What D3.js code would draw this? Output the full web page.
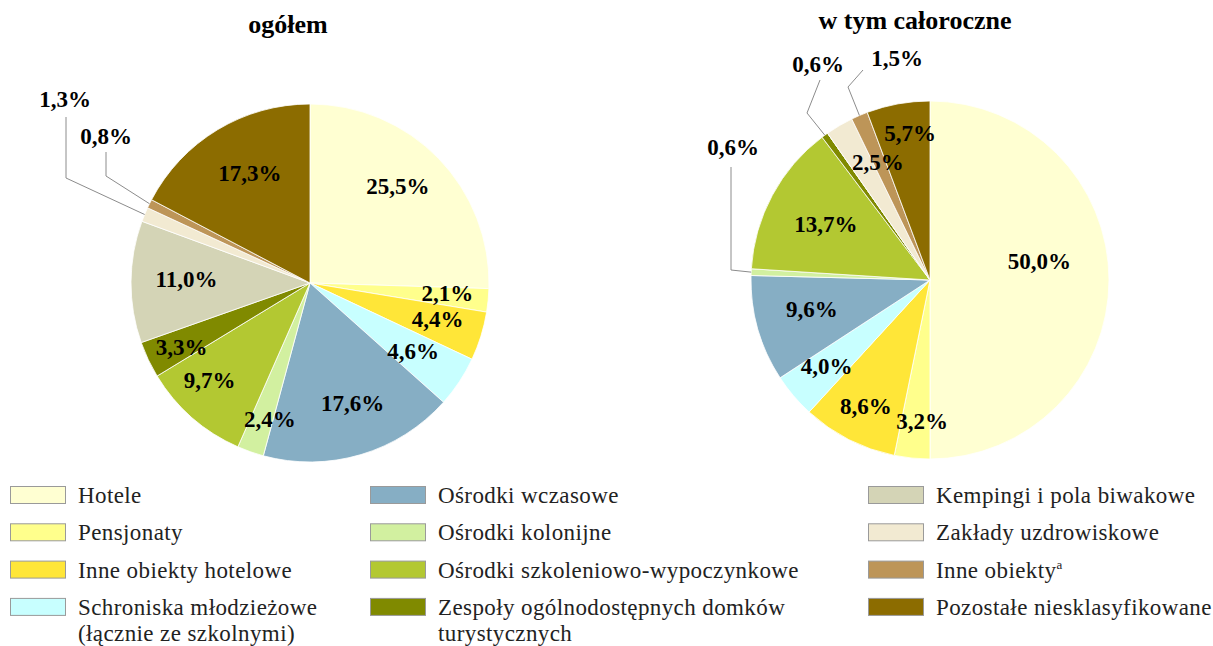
<!DOCTYPE html>
<html>
<head>
<meta charset="utf-8">
<script src="https://cdn.jsdelivr.net/npm/d3@7"></script>
<style>
  body { margin: 0; background: #fff; }
</style>
</head>
<body>
<script>
// categories (legend order == slice order, clockwise from 12 o'clock)
var categories = [
  "Hotele", "Pensjonaty", "Inne obiekty hotelowe", "Schroniska młodzieżowe|(łącznie ze szkolnymi)",
  "Ośrodki wczasowe", "Ośrodki kolonijne", "Ośrodki szkoleniowo-wypoczynkowe", "Zespoły ogólnodostępnych domków|turystycznych",
  "Kempingi i pola biwakowe", "Zakłady uzdrowiskowe", "Inne obiekty^a", "Pozostałe niesklasyfikowane"
];
var colors = ["#ffffd2", "#ffff8c", "#ffe638", "#c8ffff", "#86aec4", "#d2f0a0",
              "#b3c832", "#808a00", "#d4d4b6", "#f2ead2", "#bd9558", "#8c6c00"];

var totalValues  = [25.5, 2.1, 4.4, 4.6, 17.6, 2.4, 9.7, 3.3, 11.0, 1.3, 0.8, 17.3];
var yearlyValues = [50.0, 3.2, 8.6, 4.0, 9.6, 0.6, 13.7, 0.6, 0.0, 2.5, 1.5, 5.7];

var titles = ["ogółem", "w tym całoroczne"];

var width = 1213, height = 646;
var radius = 179;
var serif = "'Liberation Serif', 'Times New Roman', 'DejaVu Serif', serif";

var svg = d3.select("body").append("svg")
  .attr("width", width)
  .attr("height", height)
  .attr("font-family", serif)
  .style("font-family", serif);

// label placement: [radius factor, angle shift in degrees] or null for callouts
var totalPlace = [[0.73,-3.7],[0.77,-1.4],[0.74,-1.6],[0.69,0],[0.71,-3],[0.79,-3],
                  [0.78,4.7],[0.80,-1],[0.69,1.4],null,null,[0.70,2.5]];
var yearlyPlace = [[0.62,-10],[0.79,-2.6],[0.79,0],[0.75,0.7],[0.68,2],null,
                   [0.66,0],null,null,[0.72,6.6],null,[0.83,2.6]];

// callouts: slice index, polyline points relative to centre (elbow, end), text position
var totalCallouts = [
  { i: 9,  pts: [[-244,-105],[-244,-166]], text: [-245,-184] },
  { i: 10, pts: [[-204,-107],[-204,-131]], text: [-204,-147] }
];
var yearlyCallouts = [
  { i: 5,  pts: [[-199,-10],[-199,-113]], text: [-197,-133] },
  { i: 7,  pts: [[-123,-167],[-110,-200]], text: [-112,-216] },
  { i: 10, pts: [[-82,-193],[-67,-210]], text: [-33,-222] }
];

var pie = d3.pie().sort(null).value(function(d) { return d; });
var arc = d3.arc().innerRadius(0).outerRadius(radius);
var fmt = function(v) { return d3.format(".1f")(v).replace(".", ",") + "%"; };

function drawPie(values, cx, cy, title, titleX, titleY, place, callouts) {
  var g = svg.append("g").attr("transform", "translate(" + cx + "," + cy + ")");
  var arcs = pie(values);

  g.selectAll("path.slice")
    .data(arcs)
    .enter().append("path")
    .attr("class", "slice")
    .attr("d", arc)
    .attr("fill", function(d, i) { return colors[i]; })
    .attr("stroke", "#ffffff")
    .attr("stroke-width", 0.8);

  // inside labels
  arcs.forEach(function(d, i) {
    var p = place[i];
    if (!p || d.value === 0) return;
    var a = (d.startAngle + d.endAngle) / 2 + p[1] * Math.PI / 180;
    var r = radius * p[0];
    g.append("text")
      .attr("x", r * Math.sin(a))
      .attr("y", -r * Math.cos(a))
      .attr("dy", "0.35em")
      .attr("text-anchor", "middle")
      .attr("font-size", 23)
      .attr("font-weight", "bold")
      .text(fmt(d.value));
  });

  // outside labels with leader lines
  callouts.forEach(function(c) {
    var d = arcs[c.i];
    var a = (d.startAngle + d.endAngle) / 2;
    var pts = [[radius * Math.sin(a), -radius * Math.cos(a)]].concat(c.pts);
    g.append("path")
      .attr("d", d3.line()(pts))
      .attr("fill", "none")
      .attr("stroke", "#8c8c8c")
      .attr("stroke-width", 1);
    g.append("text")
      .attr("x", c.text[0])
      .attr("y", c.text[1])
      .attr("dy", "0.35em")
      .attr("text-anchor", "middle")
      .attr("font-size", 23)
      .attr("font-weight", "bold")
      .text(fmt(d.value));
  });

  svg.append("text")
    .attr("x", titleX)
    .attr("y", titleY)
    .attr("text-anchor", "middle")
    .attr("font-size", 26)
    .attr("font-weight", "bold")
    .text(title);
}

drawPie(totalValues, 310, 283, titles[0], 288, 33, totalPlace, totalCallouts);
drawPie(yearlyValues, 930, 280, titles[1], 915, 29, yearlyPlace, yearlyCallouts);

// legend: 3 columns x 4 rows
var colX = [10, 370, 868];
var legend = svg.append("g");
categories.forEach(function(name, i) {
  var col = Math.floor(i / 4), row = i % 4;
  var x = colX[col], y = 486 + row * 37.3;
  legend.append("rect")
    .attr("x", x + 0.5).attr("y", y + 0.5)
    .attr("width", 55).attr("height", 17)
    .attr("fill", colors[i])
    .attr("stroke", "#9a9a9a")
    .attr("stroke-width", 1);
  var lines = name.split("|");
  lines.forEach(function(line, k) {
    var t = legend.append("text")
      .attr("x", x + 68)
      .attr("y", y + 17 + k * 26)
      .attr("font-size", 23)
      .attr("letter-spacing", 0.4)
      .attr("fill", "#222");
    if (line.indexOf("^") >= 0) {
      var parts = line.split("^");
      t.append("tspan").text(parts[0]);
      t.append("tspan").attr("dy", -9).attr("font-size", 13).text(parts[1]);
    } else {
      t.text(line);
    }
  });
});
</script>
</body>
</html>
